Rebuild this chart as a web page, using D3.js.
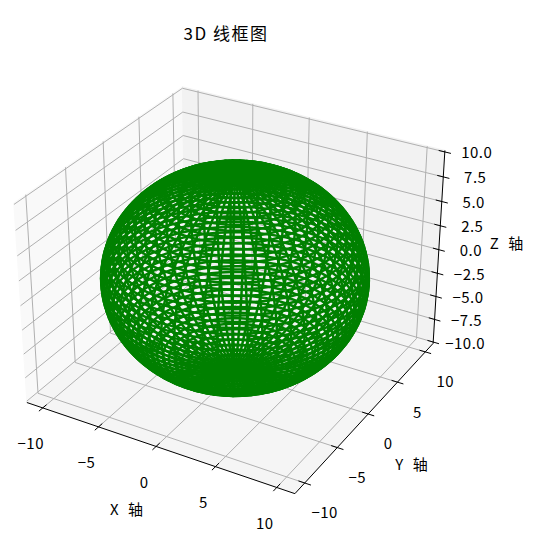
<!DOCTYPE html>
<html><head><meta charset="utf-8">
<script src="https://cdn.jsdelivr.net/npm/d3@7"></script>
<style>body{margin:0;background:#fff}</style></head>
<body><svg id="c" width="542" height="553"></svg>
<script>
const title = "3D 线框图";
const xLabel = "X 轴", yLabel = "Y 轴", zLabel = "Z 轴";
const xTicks = [-10, -5, 0, 5, 10];
const yTicks = [-10, -5, 0, 5, 10];
const zTicks = [-10, -7.5, -5, -2.5, 0, 2.5, 5, 7.5, 10];
const zTickLabels = ["\u221210.0", "\u22127.5", "\u22125.0", "\u22122.5", "0.0", "2.5", "5.0", "7.5", "10.0"];
const radius = 10;
const gridN = 60;       // samples along u and v
const lineCount = 60;   // wireframe lines each way
const xyLim = [-11.45, 11.45];
const zLim = [-10.15, 10.15];

const font = "'Noto Sans CJK SC', sans-serif";
const svg = d3.select("#c");
const sx = d3.scaleLinear().domain(xyLim).range([-1, 1]);
const sy = d3.scaleLinear().domain(xyLim).range([-1, 1]);
const sz = d3.scaleLinear().domain(zLim).range([-0.74, 0.74]);
const el = 30 * Math.PI / 180, az = -60 * Math.PI / 180;
const E = [Math.cos(el) * Math.cos(az), Math.cos(el) * Math.sin(az), Math.sin(el)];
const Rv = [-Math.sin(az), Math.cos(az), 0];
const Uv = [-Math.sin(el) * Math.cos(az), -Math.sin(el) * Math.sin(az), Math.cos(el)];
const D = 12.5, S = 153, CX = 235, CY = 277;
function projN(p) {
  const d = p[0]*E[0] + p[1]*E[1] + p[2]*E[2];
  const f = D / (D - d);
  const u = p[0]*Rv[0] + p[1]*Rv[1];
  const v = p[0]*Uv[0] + p[1]*Uv[1] + p[2]*Uv[2];
  return [CX + S * u * f, CY - S * v * f];
}
function proj(x, y, z) { return projN([sx(x), sy(y), sz(z)]); }
const line = d3.line();
const [L, H] = xyLim;
const [ZL, ZH] = zLim;

// panes
const panes = [
  {pts: [[L,L,ZL],[L,H,ZL],[L,H,ZH],[L,L,ZH]], fill: "#f9f9f9"},
  {pts: [[L,H,ZL],[H,H,ZL],[H,H,ZH],[L,H,ZH]], fill: "#f2f2f2"},
  {pts: [[L,L,ZL],[H,L,ZL],[H,H,ZL],[L,H,ZL]], fill: "#f5f5f5"}
];
panes.forEach(p => svg.append("path")
  .attr("d", line(p.pts.map(q => proj(...q))) + "Z")
  .attr("fill", p.fill).attr("stroke", p.fill));

// grid lines
const g = svg.append("g").attr("stroke", "#b0b0b0").attr("stroke-width", 1).attr("fill", "none");
function seg(a, b) { g.append("path").attr("d", line([proj(...a), proj(...b)])); }
xTicks.forEach(x => { seg([x,L,ZL],[x,H,ZL]); seg([x,H,ZL],[x,H,ZH]); });
yTicks.forEach(y => { seg([L,y,ZL],[H,y,ZL]); seg([L,y,ZL],[L,y,ZH]); });
zTicks.forEach(z => { seg([L,L,z],[L,H,z]); seg([L,H,z],[H,H,z]); });

// axes
const ax = svg.append("g").attr("stroke", "#000").attr("stroke-width", 1).attr("fill", "none");
function aseg(a, b) { ax.append("path").attr("d", line([proj(...a), proj(...b)])); }
aseg([L,L,ZL],[H,L,ZL]);
aseg([H,L,ZL],[H,H,ZL]);
aseg([H,H,ZL],[H,H,ZH]);
const tl = 0.5;
xTicks.forEach(x => aseg([x,L+tl,ZL],[x,L-tl,ZL]));
yTicks.forEach(y => aseg([H-tl,y,ZL],[H+tl,y,ZL]));
zTicks.forEach(z => aseg([H-tl,H,z],[H+tl,H,z]));

const txt = svg.append("g").attr("font-family", font).attr("font-size", 15).attr("fill", "#000")
  .attr("letter-spacing", 0.5)
  .attr("text-anchor", "middle").attr("dominant-baseline", "central");
const fmt = v => (v < 0 ? "\u2212" : "") + Math.abs(v);
xTicks.forEach(x => {
  const p = proj(x, L, ZL);
  txt.append("text").attr("x", p[0] - 12).attr("y", p[1] + 35).text(fmt(x));
});
yTicks.forEach(y => {
  const p = proj(H, y, ZL);
  txt.append("text").attr("x", p[0] + 20).attr("y", p[1] + 29).text(fmt(y));
});
zTicks.forEach((z, i) => {
  const p = proj(H, H, z);
  txt.append("text").attr("x", p[0] + 32).attr("y", p[1]).text(zTickLabels[i]);
});
txt.append("text").attr("x", 128).attr("y", 508).attr("letter-spacing", 3).text(xLabel);
txt.append("text").attr("x", 413).attr("y", 463).attr("letter-spacing", 3).text(yLabel);
txt.append("text").attr("x", 508).attr("y", 242).attr("letter-spacing", 3).text(zLabel);
svg.append("text").attr("x", 226).attr("y", 32).attr("text-anchor", "middle").attr("letter-spacing", 1.5)
  .attr("dominant-baseline", "central").attr("font-family", font).attr("font-size", 17).text(title);

// wireframe sphere
const us = d3.range(gridN).map(i => 2 * Math.PI * i / (gridN - 1));
const vs = d3.range(gridN).map(i => Math.PI * i / (gridN - 1));
const stride = Math.ceil(gridN / lineCount);
const idx = d3.range(0, gridN, stride); if (idx[idx.length-1] !== gridN-1) idx.push(gridN-1);
const wf = svg.append("g").attr("stroke", "#008000").attr("stroke-width", 2.5).attr("fill", "none");
const pt = (u, v) => proj(radius * Math.cos(u) * Math.sin(v), radius * Math.sin(u) * Math.sin(v), radius * Math.cos(v));
idx.forEach(j => wf.append("path").attr("d", line(us.map(u => pt(u, vs[j])))));
idx.forEach(i => wf.append("path").attr("d", line(vs.map(v => pt(us[i], v)))));
</script></body></html>
